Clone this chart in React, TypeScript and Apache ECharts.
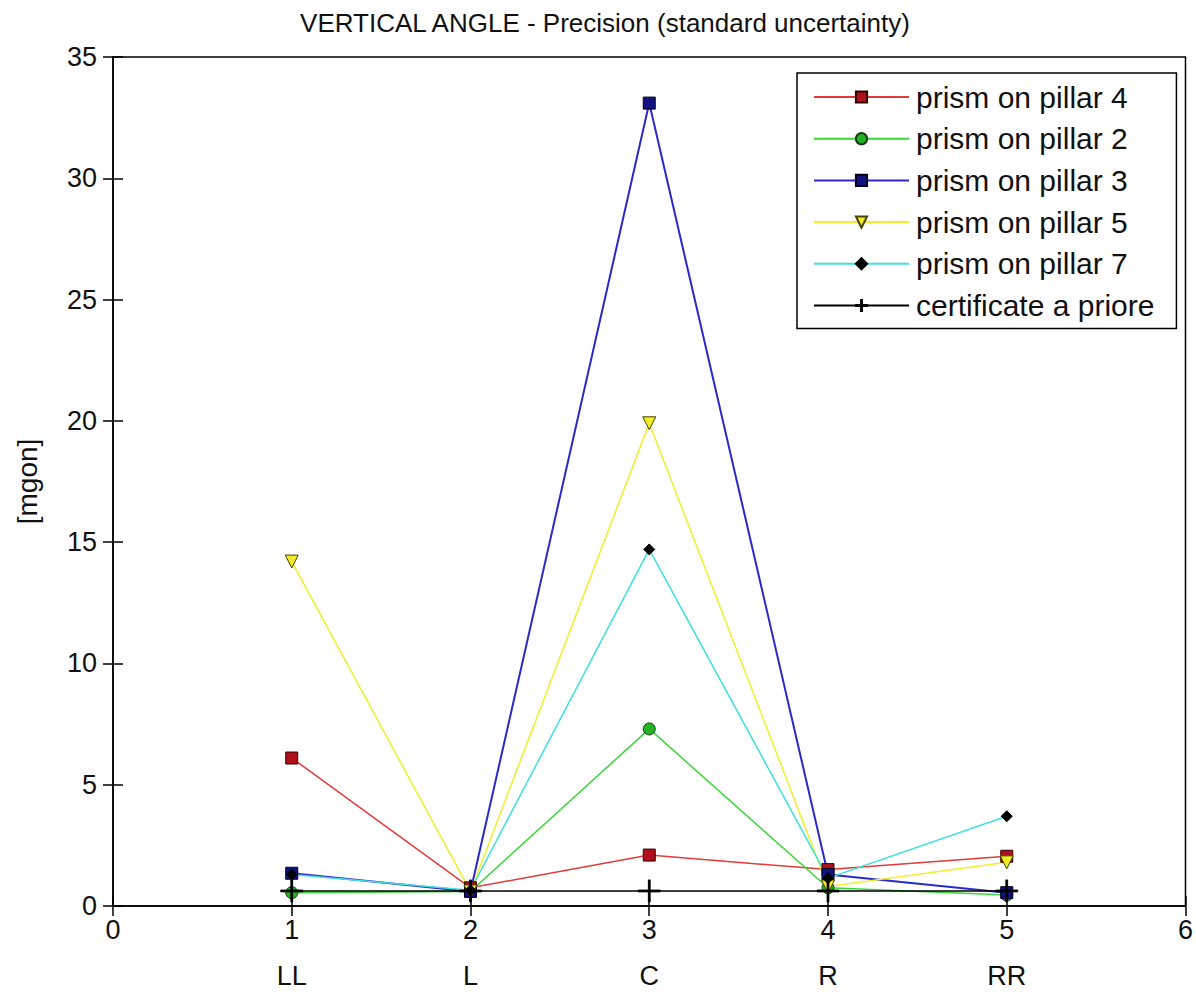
import React, { useEffect, useRef } from "react";
import * as echarts from "echarts";

const xPositions = [1, 2, 3, 4, 5];
const categories = ["LL", "L", "C", "R", "RR"];
const pillar4 = [6.1, 0.75, 2.1, 1.5, 2.05];
const pillar2 = [0.55, 0.6, 7.3, 0.75, 0.45];
const pillar3 = [1.35, 0.6, 33.1, 1.3, 0.55];
const pillar5 = [14.2, 0.6, 19.9, 0.8, 1.8];
const pillar7 = [1.3, 0.65, 14.7, 1.15, 3.7];
const certificate = [0.62, 0.62, 0.62, 0.62, 0.62];
const seriesNames = [
  "prism on pillar 4",
  "prism on pillar 2",
  "prism on pillar 3",
  "prism on pillar 5",
  "prism on pillar 7",
  "certificate a priore",
];

const FONT = "'Liberation Sans', Arial, sans-serif";
const PLUS =
  "path://M-0.08,-1 L0.08,-1 L0.08,-0.08 L1,-0.08 L1,0.08 L0.08,0.08 L0.08,1 L-0.08,1 L-0.08,0.08 L-1,0.08 L-1,-0.08 L-0.08,-0.08 Z";

const pairs = (vals: number[]) => xPositions.map((x, i) => [x, vals[i]]);

export default function App() {
  const ref = useRef<HTMLDivElement>(null);
  useEffect(() => {
    if (!ref.current) return;
    const chart = echarts.init(ref.current, undefined, { renderer: "svg" });
    const tickStyle = { show: true, inside: true, length: 10, lineStyle: { color: "#000", width: 1.5 } };
    const mk = (
      name: string,
      vals: number[],
      lineColor: string,
      symbol: string,
      size: number,
      fill: string,
      border: string,
      rotate = 0,
      width = 1.5
    ) => ({
      name,
      type: "line",
      data: pairs(vals),
      symbol,
      symbolSize: size,
      symbolRotate: rotate,
      showAllSymbol: true,
      lineStyle: { color: lineColor, width },
      itemStyle: { color: fill, borderColor: border, borderWidth: 1 },
      emphasis: { disabled: true },
      z: 2,
    });
    chart.setOption({
      animation: false,
      backgroundColor: "#fff",
      textStyle: { fontFamily: FONT, color: "#000" },
      title: {
        text: "VERTICAL ANGLE - Precision (standard uncertainty)",
        left: 600,
        textAlign: "center",
        top: 5,
        textStyle: { fontFamily: FONT, fontSize: 26, fontWeight: "normal", color: "#111" },
      },
      legend: {
        orient: "vertical",
        left: 797,
        top: 73,
        data: seriesNames,
        itemWidth: 95,
        itemHeight: 14,
        itemGap: 11.7,
        padding: [9, 22, 8, 16],
        borderColor: "#000",
        borderWidth: 1.5,
        backgroundColor: "#fff",
        textStyle: { fontFamily: FONT, fontSize: 30, color: "#111", lineHeight: 30, padding: [0, 0, 0, 2] },
      },
      grid: {
        left: 113,
        right: 6,
        top: 57,
        bottom: 87,
        show: true,
        borderColor: "#000",
        borderWidth: 1.5,
        containLabel: false,
      },
      xAxis: [
        {
          type: "value",
          min: 0,
          max: 6,
          interval: 1,
          position: "bottom",
          axisLine: { show: true, lineStyle: { color: "#000", width: 1.5 } },
          axisTick: tickStyle,
          splitLine: { show: false },
          axisLabel: { fontFamily: FONT, fontSize: 27, color: "#111", margin: 10 },
        },
        {
          type: "value",
          min: 0,
          max: 6,
          interval: 1,
          position: "top",
          axisLine: { show: false },
          axisTick: tickStyle,
          splitLine: { show: false },
          axisLabel: { show: false },
        },
        {
          type: "value",
          min: 0,
          max: 6,
          interval: 1,
          position: "bottom",
          offset: 46,
          axisLine: { show: false },
          axisTick: { show: false },
          splitLine: { show: false },
          axisLabel: {
            fontFamily: FONT,
            fontSize: 27,
            color: "#111",
            margin: 10,
            formatter: (v: number) => categories[xPositions.indexOf(v)] ?? "",
          },
        },
      ],
      yAxis: [
        {
          type: "value",
          min: 0,
          max: 35,
          interval: 5,
          position: "left",
          name: "[mgon]",
          nameLocation: "middle",
          nameGap: 72,
          nameTextStyle: { fontFamily: FONT, fontSize: 28, color: "#111" },
          axisLine: { show: true, lineStyle: { color: "#000", width: 1.5 } },
          axisTick: tickStyle,
          splitLine: { show: false },
          axisLabel: { fontFamily: FONT, fontSize: 27, color: "#111", margin: 16 },
        },
        {
          type: "value",
          min: 0,
          max: 35,
          interval: 5,
          position: "right",
          axisLine: { show: false },
          axisTick: tickStyle,
          splitLine: { show: false },
          axisLabel: { show: false },
        },
      ],
      series: [
        mk(seriesNames[0], pillar4, "#e33a3a", "rect", 12, "#b0101c", "#300"),
        mk(seriesNames[1], pillar2, "#3ad63a", "circle", 12, "#22b422", "#143c14"),
        mk(seriesNames[2], pillar3, "#2a2acc", "rect", 12, "#12127e", "#000020", 0, 2),
        mk(seriesNames[3], pillar5, "#f2ee2a", "triangle", 13, "#f0ec28", "#4a4400", 180),
        mk(seriesNames[4], pillar7, "#3ee0e0", "diamond", 11, "#000", "#000"),
        mk(seriesNames[5], certificate, "#000", PLUS, 22, "#000", "#000", 0, 1.5),
      ],
    });
    return () => chart.dispose();
  }, []);
  return (
    <div
      ref={ref}
      style={{ position: "absolute", left: 0, top: 0, width: 1196, height: 993 }}
    />
  );
}
